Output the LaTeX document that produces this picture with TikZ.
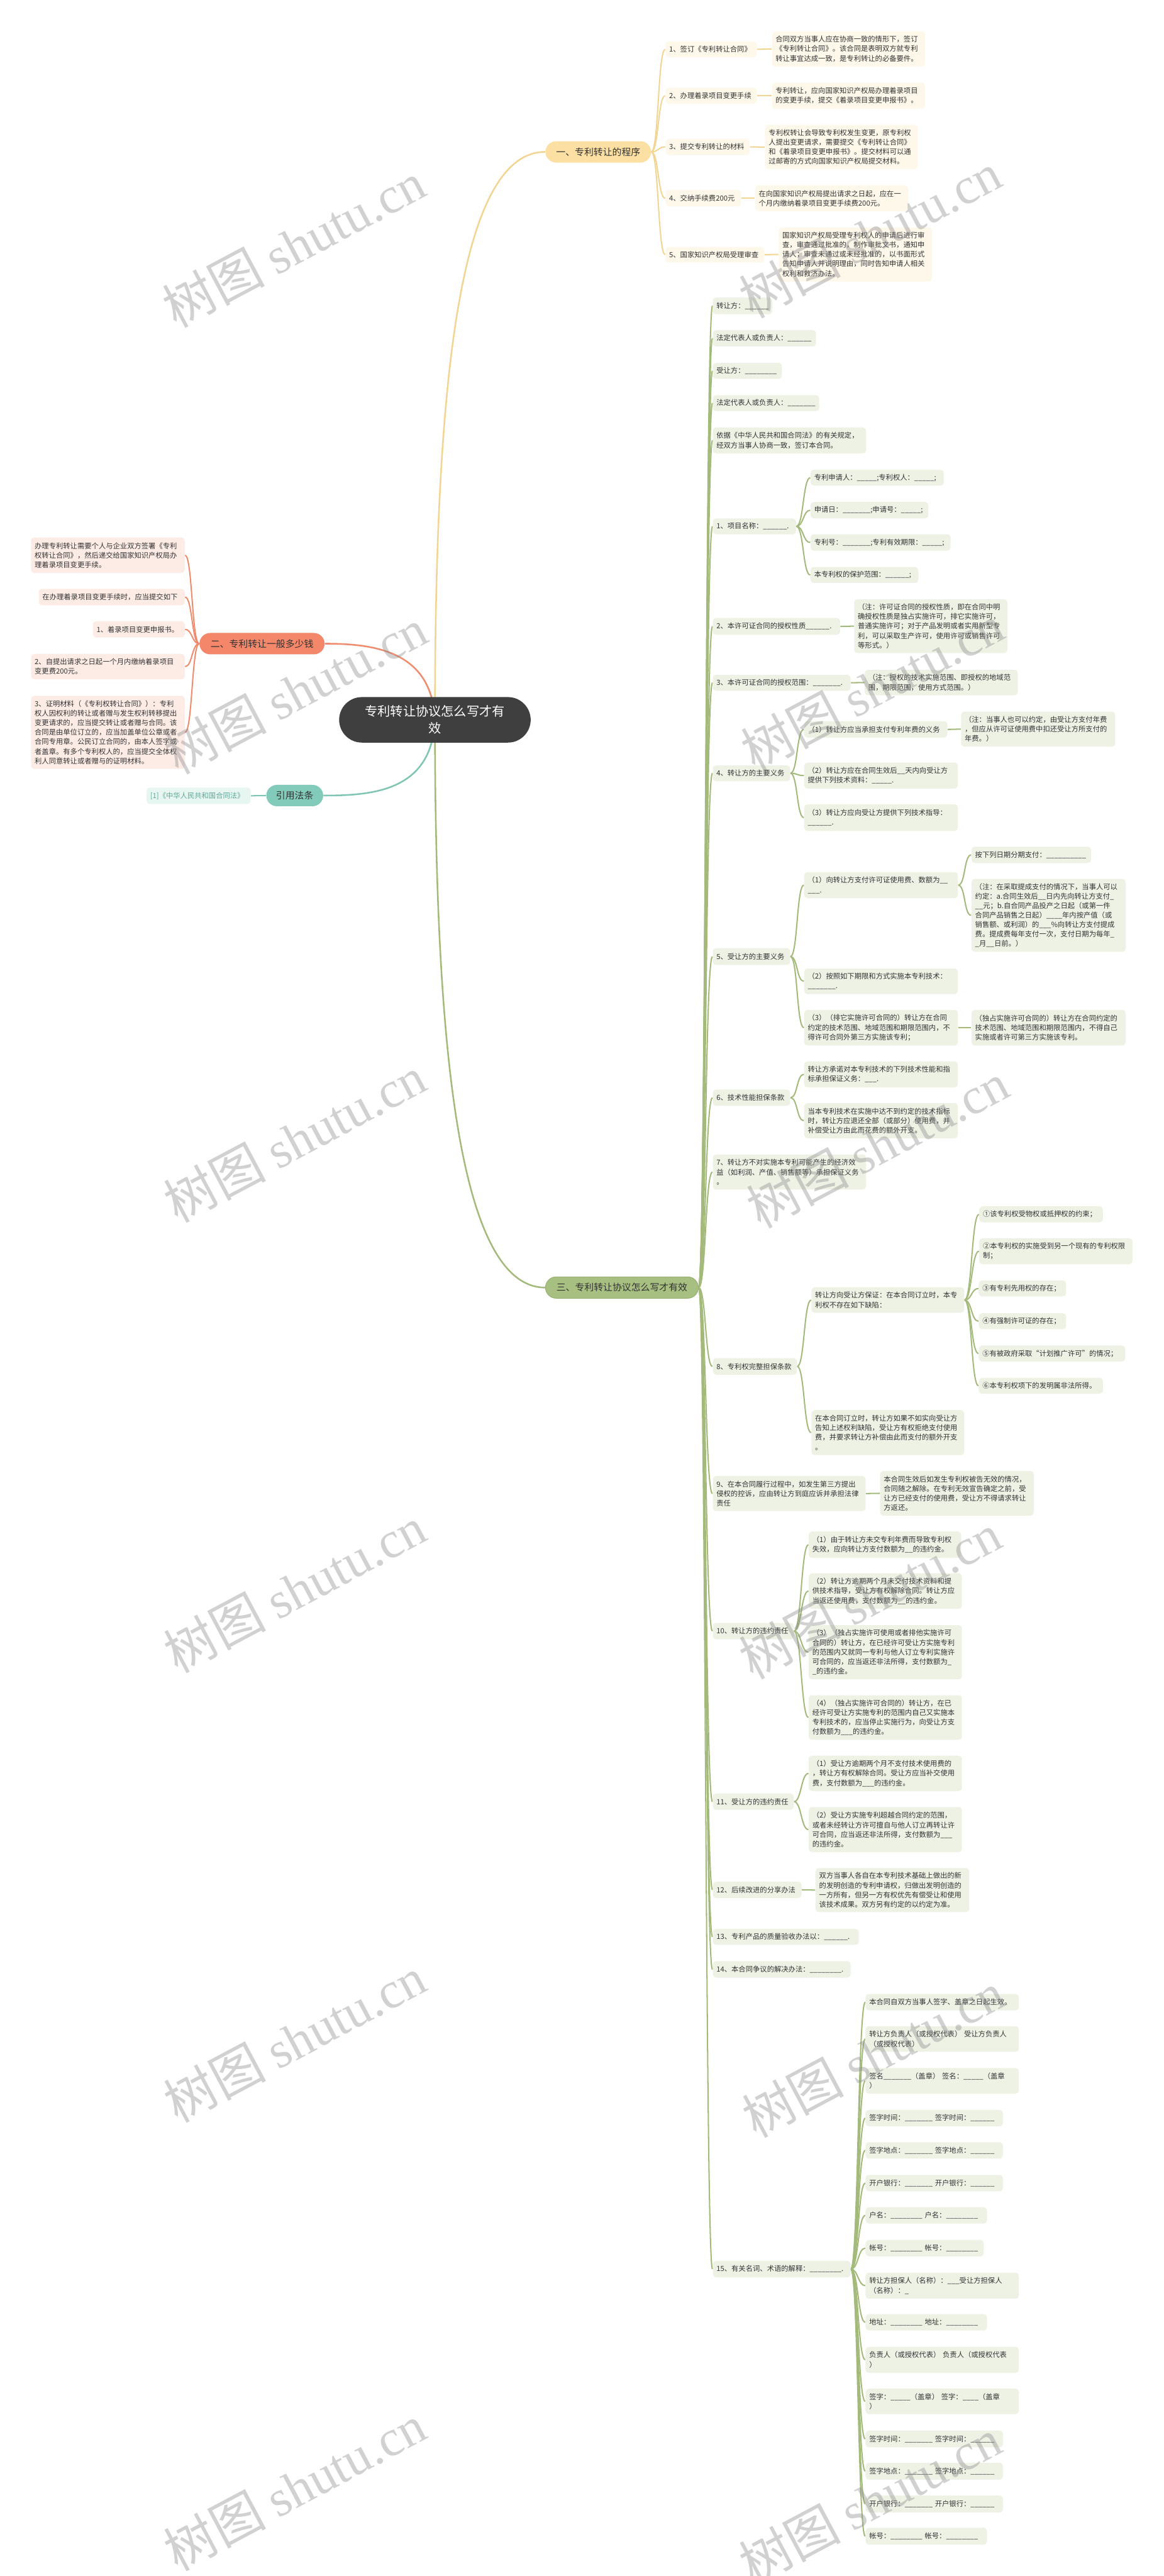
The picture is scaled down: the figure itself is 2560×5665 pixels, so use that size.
\documentclass[tikz,border=0pt]{standalone}
\usepackage{fontspec}
\setmainfont{Noto Sans CJK SC}
\newfontfamily\wmcjk{Noto Sans CJK SC}
\newfontfamily\wmlatin{Liberation Serif}
\usetikzlibrary{calc,backgrounds}
\definecolor{txt}{HTML}{333333}
\definecolor{rootc}{HTML}{3F3F3F}
\definecolor{bA}{HTML}{FCE0A3}
\definecolor{bAline}{HTML}{F3D593}
\definecolor{bAleaf}{HTML}{FEF8EB}
\definecolor{bB}{HTML}{F4876A}
\definecolor{bBline}{HTML}{EF8C6E}
\definecolor{bBleaf}{HTML}{FDECE6}
\definecolor{bC}{HTML}{A7BF80}
\definecolor{bCdark}{HTML}{98B070}
\definecolor{bCline}{HTML}{A3BA7B}
\definecolor{bCleaf}{HTML}{EEF2E5}
\definecolor{bD}{HTML}{82CAB9}
\definecolor{bDline}{HTML}{7EC5B3}
\definecolor{bDleaf}{HTML}{E8F6F2}
\definecolor{bDtext}{HTML}{5BA896}
\newcommand\leaffont{\fontsize{4.45pt}{5.95pt}\selectfont}
\newcommand\brfont{\fontsize{5.85pt}{7pt}\selectfont}
\newcommand\rootfont{\fontsize{7.95pt}{10.5pt}\selectfont}
\newcommand\cR[3]{\draw[#1] (#2.east) .. controls ($(#2.east)+(16,0)$) and ($(#3.west)+(-16,0)$) .. (#3.west);}
\newcommand\cL[3]{\draw[#1] (#2.west) .. controls ($(#2.west)+(-16,0)$) and ($(#3.east)+(16,0)$) .. (#3.east);}
\tikzset{
  leaf/.style={rectangle, rounded corners=0.07cm, inner xsep=0.08cm, inner ysep=0.03cm, align=left, anchor=west, text=txt, font=\leaffont},
  lA/.style={leaf, fill=bAleaf},
  lB/.style={leaf, fill=bBleaf, anchor=east},
  lC/.style={leaf, fill=bCleaf},
  lD/.style={leaf, fill=bDleaf, anchor=east, text=bDtext},
  bx/.code 2 args={\pgfmathsetlengthmacro\bxw{#1*0.01cm-0.16cm}\pgfmathsetlengthmacro\bxh{#2*0.01cm}\edef\bxtmp{\noexpand\tikzset{text width=\bxw,minimum height=\bxh}}\bxtmp},
  brn/.style={rectangle, rounded corners=0.235cm, inner sep=0pt, font=\brfont, text=txt, anchor=west, align=center, minimum height=0.47cm},
  lnA/.style={draw=bAline, line width=0.8pt},
  lnB/.style={draw=bBline, line width=0.8pt},
  lnC/.style={draw=bCline, line width=0.8pt},
  lnD/.style={draw=bDline, line width=0.8pt},
  wm/.style={rotate=28, text=black!45, text opacity=0.4, font=\fontsize{32pt}{32pt}\selectfont, inner sep=0pt},
}
\begin{document}
\catcode`\_=12
\begin{tikzpicture}[x=0.01cm,y=-0.01cm]
\begin{pgfonlayer}{background}
\fill[white] (0,0) rectangle (2560,5665);
\end{pgfonlayer}
\useasboundingbox (0,0) rectangle (2560,5665);

% root and main branches
\node[rectangle, rounded corners=0.5cm, fill=rootc, text=white, font=\rootfont, align=center, minimum width=4.21cm, minimum height=1cm, inner sep=0pt] (root) at (956.5,1583) {专利转让协议怎么写才有\\效};
\node[brn, fill=bA, minimum width=2.32cm] (bA) at (1199,334) {一、专利转让的程序};
\node[brn, fill=bB, minimum width=2.75cm] (bB) at (438,1415.5) {二、专利转让一般多少钱};
\node[brn, fill=bD, minimum width=1.25cm] (bD) at (585,1749.5) {引用法条};
\node[brn, fill=bC, draw=bCdark, line width=0.4pt, minimum width=3.36cm] (bC) at (1199,2831.5) {三、专利转让协议怎么写才有效};

% branch one
\node[lA, bx={201}{35}] (a1) at (1463,108.5) {1、签订《专利转让合同》};
\node[lA, bx={337}{77}] (a1n) at (1697,107.5) {合同双方当事人应在协商一致的情形下，签订\\《专利转让合同》。该合同是表明双方就专利\\转让事宜达成一致，是专利转让的必备要件。};
\node[lA, bx={201}{35}] (a2) at (1463,210.5) {2、办理着录项目变更手续};
\node[lA, bx={337}{57}] (a2n) at (1697,210.5) {专利转让，应向国家知识产权局办理着录项目\\的变更手续，提交《着录项目变更申报书》。};
\node[lA, bx={185}{36}] (a3) at (1463,323) {3、提交专利转让的材料};
\node[lA, bx={336}{97}] (a3n) at (1682,323.5) {专利权转让会导致专利权发生变更，原专利权\\人提出变更请求，需要提交《专利转让合同》\\和《着录项目变更申报书》。提交材料可以通\\过邮寄的方式向国家知识产权局提交材料。};
\node[lA, bx={166}{36}] (a4) at (1463,436) {4、交纳手续费200元};
\node[lA, bx={337}{56}] (a4n) at (1660,436) {在向国家知识产权局提出请求之日起，应在一\\个月内缴纳着录项目变更手续费200元。};
\node[lA, bx={217}{34}] (a5) at (1463,560) {5、国家知识产权局受理审查};
\node[lA, bx={337}{119}] (a5n) at (1712,559.5) {国家知识产权局受理专利权人的申请后进行审\\查，审查通过批准的，制作审批文书，通知申\\请人；审查未通过或未经批准的，以书面形式\\告知申请人并说明理由，同时告知申请人相关\\权利和救济办法。};

% branch two
\node[lB, bx={338}{78}] (b1) at (407,1221) {办理专利转让需要个人与企业双方签署《专利\\权转让合同》，然后递交给国家知识产权局办\\理着录项目变更手续。};
\node[lB, bx={321}{36}] (b2) at (407,1313) {在办理着录项目变更手续时，应当提交如下};
\node[lB, bx={202}{36}] (b3) at (407,1384) {1、着录项目变更申报书。};
\node[lB, bx={338}{56}] (b4) at (407,1466) {2、自提出请求之日起一个月内缴纳着录项目\\变更费200元。};
\node[lB, bx={338}{161}] (b5) at (407,1610.5) {3、证明材料（《专利权转让合同》）：专利\\权人因权利的转让或者赠与发生权利转移提出\\变更请求的，应当提交转让或者赠与合同。该\\合同是由单位订立的，应当加盖单位公章或者\\合同专用章。公民订立合同的，由本人签字或\\者盖章。有多个专利权人的，应当提交全体权\\利人同意转让或者赠与的证明材料。};

% cited law
\node[lD, bx={229}{36}] (d1) at (552,1750) {[1]《中华人民共和国合同法》};

% branch three
\node[lC, bx={131}{37}] (t1) at (1567,672.5) {转让方：______};
\node[lC, bx={227}{36}] (t2) at (1567,744) {法定代表人或负责人：______};
\node[lC, bx={152}{35}] (t3) at (1567,815.5) {受让方：________};
\node[lC, bx={234}{35}] (t4) at (1567,886.5) {法定代表人或负责人：_______};
\node[lC, bx={337}{57}] (t5) at (1567,968.5) {依据《中华人民共和国合同法》的有关规定，\\经双方当事人协商一致，签订本合同。};
\node[lC, bx={183}{35}] (t6) at (1567,1157.5) {1、项目名称：______.};
\node[lC, bx={293}{35}] (t6a) at (1782,1050.5) {专利申请人：_____;专利权人：_____;};
\node[lC, bx={259}{36}] (t6b) at (1782,1122) {申请日：_______;申请号：_____;};
\node[lC, bx={308}{36}] (t6c) at (1782,1193) {专利号：_______;专利有效期限：_____;};
\node[lC, bx={237}{35}] (t6d) at (1782,1264.5) {本专利权的保护范围：______;};
\node[lC, bx={280}{37}] (t7) at (1567,1377.5) {2、本许可证合同的授权性质______.};
\node[lC, bx={337}{118}] (t7a) at (1878,1377) {（注：许可证合同的授权性质，即在合同中明\\确授权性质是独占实施许可，排它实施许可，\\普通实施许可；对于产品发明或者实用新型专\\利，可以采取生产许可，使用许可或销售许可\\等形式。）};
\node[lC, bx={303}{35}] (t8) at (1567,1501.5) {3、本许可证合同的授权范围：_______.};
\node[lC, bx={337}{56}] (t8a) at (1901,1501) {（注：授权的技术实施范围、即授权的地域范\\围，期限范围，使用方式范围。）};
\node[lC, bx={170}{35}] (t9) at (1567,1700.5) {4、转让方的主要义务};
\node[lC, bx={315}{36}] (t9a) at (1768,1604) {（1）转让方应当承担支付专利年费的义务};
\node[lC, bx={339}{77}] (t9a1) at (2113,1603.5) {（注：当事人也可以约定，由受让方支付年费\\，但应从许可证使用费中扣还受让方所支付的\\年费。）};
\node[lC, bx={338}{57}] (t9b) at (1768,1705.5) {（2）转让方应在合同生效后__天内向受让方\\提供下列技术资料：_____.};
\node[lC, bx={338}{58}] (t9c) at (1768,1798) {（3）转让方应向受让方提供下列技术指导：\\______.};
\node[lC, bx={170}{37}] (t10) at (1567,2103.5) {5、受让方的主要义务};
\node[lC, bx={338}{57}] (t10a) at (1768,1946.5) {（1）向转让方支付许可证使用费、数额为__\\___.};
\node[lC, bx={263}{36}] (t10a1) at (2136,1880) {按下列日期分期支付：__________};
\node[lC, bx={339}{160}] (t10a2) at (2136,2013) {（注：在采取提成支付的情况下，当事人可以\\约定：a.合同生效后__日内先向转让方支付_\\__元；b.自合同产品投产之日起（或第一件\\合同产品销售之日起）____年内按产值（或\\销售额、或利润）的___\%向转让方支付提成\\费。提成费每年支付一次，支付日期为每年_\\_月__日前。）};
\node[lC, bx={338}{56}] (t10b) at (1768,2158) {（2）按照如下期限和方式实施本专利技术：\\_______.};
\node[lC, bx={338}{78}] (t10c) at (1768,2260) {（3）（排它实施许可合同的）转让方在合同\\约定的技术范围、地域范围和期限范围内，不\\得许可合同外第三方实施该专利；};
\node[lC, bx={339}{78}] (t10c1) at (2136,2260) {（独占实施许可合同的）转让方在合同约定的\\技术范围、地域范围和期限范围内，不得自己\\实施或者许可第三方实施该专利。};
\node[lC, bx={170}{36}] (t11) at (1567,2414) {6、技术性能担保条款};
\node[lC, bx={338}{57}] (t11a) at (1768,2362.5) {转让方承诺对本专利技术的下列技术性能和指\\标承担保证义务：___.};
\node[lC, bx={338}{77}] (t11b) at (1768,2464.5) {当本专利技术在实施中达不到约定的技术指标\\时，转让方应退还全部（或部分）使用费，并\\补偿受让方由此而花费的额外开支。};
\node[lC, bx={337}{77}] (t12) at (1567,2577.5) {7、转让方不对实施本专利可能产生的经济效\\益（如利润、产值、销售额等）承担保证义务\\。};
\node[lC, bx={185}{36}] (t13) at (1567,3005) {8、专利权完整担保条款};
\node[lC, bx={336}{56}] (t13a) at (1784,2859) {转让方向受让方保证：在本合同订立时，本专\\利权不存在如下缺陷：};
\node[lC, bx={272}{35}] (c1) at (2153,2670.5) {①该专利权受物权或抵押权的约束；};
\node[lC, bx={337}{57}] (c2) at (2153,2751.5) {②本专利权的实施受到另一个现有的专利权限\\制；};
\node[lC, bx={192}{35}] (c3) at (2152,2833.5) {③有专利先用权的存在；};
\node[lC, bx={192}{35}] (c4) at (2152,2905.5) {④有强制许可证的存在；};
\node[lC, bx={322}{35}] (c5) at (2152,2976.5) {⑤有被政府采取“计划推广许可”的情况；};
\node[lC, bx={273}{35}] (c6) at (2152,3047.5) {⑥本专利权项下的发明属非法所得。};
\node[lC, bx={336}{99}] (t13b) at (1784,3150.5) {在本合同订立时，转让方如果不如实向受让方\\告知上述权利缺陷，受让方有权拒绝支付使用\\费，并要求转让方补偿由此而支付的额外开支\\。};
\node[lC, bx={336}{77}] (t14) at (1567,3284.5) {9、在本合同履行过程中，如发生第三方提出\\侵权的控诉，应由转让方到庭应诉并承担法律\\责任};
\node[lC, bx={338}{98}] (t14a) at (1935,3284) {本合同生效后如发生专利权被告无效的情况，\\合同随之解除。在专利无效宣告确定之前，受\\让方已经支付的使用费，受让方不得请求转让\\方返还。};
\node[lC, bx={178}{36}] (t15) at (1567,3587) {10、转让方的违约责任};
\node[lC, bx={335}{58}] (t15a) at (1778,3397) {（1）由于转让方未交专利年费而导致专利权\\失效，应向转让方支付数额为__的违约金。};
\node[lC, bx={337}{78}] (t15b) at (1778,3499) {（2）转让方逾期两个月未交付技术资料和提\\供技术指导，受让方有权解除合同。转让方应\\当返还使用费，支付数额为__的违约金。};
\node[lC, bx={337}{119}] (t15c) at (1778,3633.5) {（3）（独占实施许可使用或者排他实施许可\\合同的）转让方，在已经许可受让方实施专利\\的范围内又就同一专利与他人订立专利实施许\\可合同的，应当返还非法所得，支付数额为_\\_的违约金。};
\node[lC, bx={337}{98}] (t15d) at (1778,3777) {（4）（独占实施许可合同的）转让方，在已\\经许可受让方实施专利的范围内自己又实施本\\专利技术的，应当停止实施行为，向受让方支\\付数额为___的违约金。};
\node[lC, bx={178}{36}] (t16) at (1567,3962) {11、受让方的违约责任};
\node[lC, bx={337}{78}] (t16a) at (1778,3900) {（1）受让方逾期两个月不支付技术使用费的\\，转让方有权解除合同。受让方应当补交使用\\费，支付数额为___的违约金。};
\node[lC, bx={337}{99}] (t16b) at (1778,4023.5) {（2）受让方实施专利超越合同约定的范围，\\或者未经转让方许可擅自与他人订立再转让许\\可合同，应当返还非法所得，支付数额为___\\的违约金。};
\node[lC, bx={195}{36}] (t17) at (1567,4156) {12、后续改进的分享办法};
\node[lC, bx={338}{97}] (t17a) at (1793,4156.5) {双方当事人各自在本专利技术基础上做出的新\\的发明创造的专利申请权，归做出发明创造的\\一方所有，但另一方有权优先有偿受让和使用\\该技术成果。双方另有约定的以约定为准。};
\node[lC, bx={321}{35}] (t18) at (1567,4259.5) {13、专利产品的质量验收办法以：______.};
\node[lC, bx={303}{36}] (t19) at (1567,4331) {14、本合同争议的解决办法：________.};
\node[lC, bx={303}{36}] (t20) at (1567,4990) {15、有关名词、术语的解释：________.};
\node[lC, bx={337}{36}] (s1) at (1903,4403) {本合同自双方当事人签字、盖章之日起生效。};
\node[lC, bx={337}{56}] (s2) at (1903,4484) {转让方负责人（或授权代表） 受让方负责人\\（或授权代表）};
\node[lC, bx={337}{56}] (s3) at (1903,4576) {签名_______（盖章） 签名：_____（盖章\\）};
\node[lC, bx={302}{36}] (s4) at (1903,4658) {签字时间：_______ 签字时间：______};
\node[lC, bx={302}{36}] (s5) at (1903,4729) {签字地点：_______ 签字地点：______};
\node[lC, bx={302}{36}] (s6) at (1903,4801) {开户银行：_______ 开户银行：______};
\node[lC, bx={267}{36}] (s7) at (1903,4872) {户名：________ 户名：________};
\node[lC, bx={260}{36}] (s8) at (1903,4944) {帐号：________ 帐号：________};
\node[lC, bx={337}{57}] (s9) at (1903,5026.5) {转让方担保人（名称）：___受让方担保人\\（名称）：_};
\node[lC, bx={267}{36}] (s10) at (1903,5107) {地址：________ 地址：________};
\node[lC, bx={337}{57}] (s11) at (1903,5189.5) {负责人（或授权代表） 负责人（或授权代表\\）};
\node[lC, bx={337}{56}] (s12) at (1903,5281) {签字：_____（盖章） 签字：____（盖章\\）};
\node[lC, bx={302}{37}] (s13) at (1903,5363.5) {签字时间：_______ 签字时间：______};
\node[lC, bx={302}{37}] (s14) at (1903,5434.5) {签字地点：_______ 签字地点：______};
\node[lC, bx={302}{37}] (s15) at (1903,5506.5) {开户银行：_______ 开户银行：______};
\node[lC, bx={267}{37}] (s16) at (1903,5577.5) {帐号：________ 帐号：________};

% connectors
\begin{pgfonlayer}{background}
\draw[draw=bAline, line width=1pt] (root.center) .. controls (957,900) and (1000,334) .. (bA.west);
\draw[draw=bCline, line width=1pt] (root.center) .. controls (957,2250) and (1000,2831.5) .. (bC.west);
\draw[draw=bBline, line width=1pt] (root.center) .. controls (950,1430) and (820,1415.5) .. (bB.east);
\draw[draw=bDline, line width=1pt] (root.center) .. controls (950,1740) and (820,1749.5) .. (bD.east);
\foreach \c in {a1,a2,a3,a4,a5} {\cR{lnA}{bA}{\c}}
\foreach \c in {1,2,3,4,5} {\cR{lnA}{a\c}{a\c n}}
\foreach \c in {b1,b2,b3,b4,b5} {\cL{lnB}{bB}{\c}}
\cL{lnD}{bD}{d1}
\foreach \c in {t1,t2,t3,t4,t5,t6,t7,t8,t9,t10,t11,t12,t13,t14,t15,t16,t17,t18,t19,t20} {\cR{lnC}{bC}{\c}}
\foreach \c in {t6a,t6b,t6c,t6d} {\cR{lnC}{t6}{\c}}
\cR{lnC}{t7}{t7a}
\cR{lnC}{t8}{t8a}
\foreach \c in {t9a,t9b,t9c} {\cR{lnC}{t9}{\c}}
\cR{lnC}{t9a}{t9a1}
\foreach \c in {t10a,t10b,t10c} {\cR{lnC}{t10}{\c}}
\cR{lnC}{t10a}{t10a1}
\cR{lnC}{t10a}{t10a2}
\cR{lnC}{t10c}{t10c1}
\foreach \c in {t11a,t11b} {\cR{lnC}{t11}{\c}}
\foreach \c in {t13a,t13b} {\cR{lnC}{t13}{\c}}
\foreach \c in {c1,c2,c3,c4,c5,c6} {\cR{lnC}{t13a}{\c}}
\cR{lnC}{t14}{t14a}
\foreach \c in {t15a,t15b,t15c,t15d} {\cR{lnC}{t15}{\c}}
\foreach \c in {t16a,t16b} {\cR{lnC}{t16}{\c}}
\cR{lnC}{t17}{t17a}
\foreach \c in {s1,s2,s3,s4,s5,s6,s7,s8,s9,s10,s11,s12,s13,s14,s15,s16} {\cR{lnC}{t20}{\c}}
\end{pgfonlayer}

% watermarks
\node[wm] (wmL1) at (646,538) {{\wmcjk 树图} {\wmlatin shutu.cn}};
\node[wm] (wmL2) at (650,1519) {{\wmcjk 树图} {\wmlatin shutu.cn}};
\node[wm] (wmL3) at (648,2505) {{\wmcjk 树图} {\wmlatin shutu.cn}};
\node[wm] (wmL4) at (648,3495) {{\wmcjk 树图} {\wmlatin shutu.cn}};
\node[wm] (wmL5) at (648,4485) {{\wmcjk 树图} {\wmlatin shutu.cn}};
\node[wm] (wmL6) at (648,5470) {{\wmcjk 树图} {\wmlatin shutu.cn}};
\node[wm] (wmR1) at (1913,517) {{\wmcjk 树图} {\wmlatin shutu.cn}};
\node[wm] (wmR2) at (1918,1512) {{\wmcjk 树图} {\wmlatin shutu.cn}};
\node[wm] (wmR3) at (1930,2518) {{\wmcjk 树图} {\wmlatin shutu.cn}};
\node[wm] (wmR4) at (1913,3510) {{\wmcjk 树图} {\wmlatin shutu.cn}};
\node[wm] (wmR5) at (1920,4518) {{\wmcjk 树图} {\wmlatin shutu.cn}};
\node[wm] (wmR6) at (1913,5500) {{\wmcjk 树图} {\wmlatin shutu.cn}};
\end{tikzpicture}
\end{document}
